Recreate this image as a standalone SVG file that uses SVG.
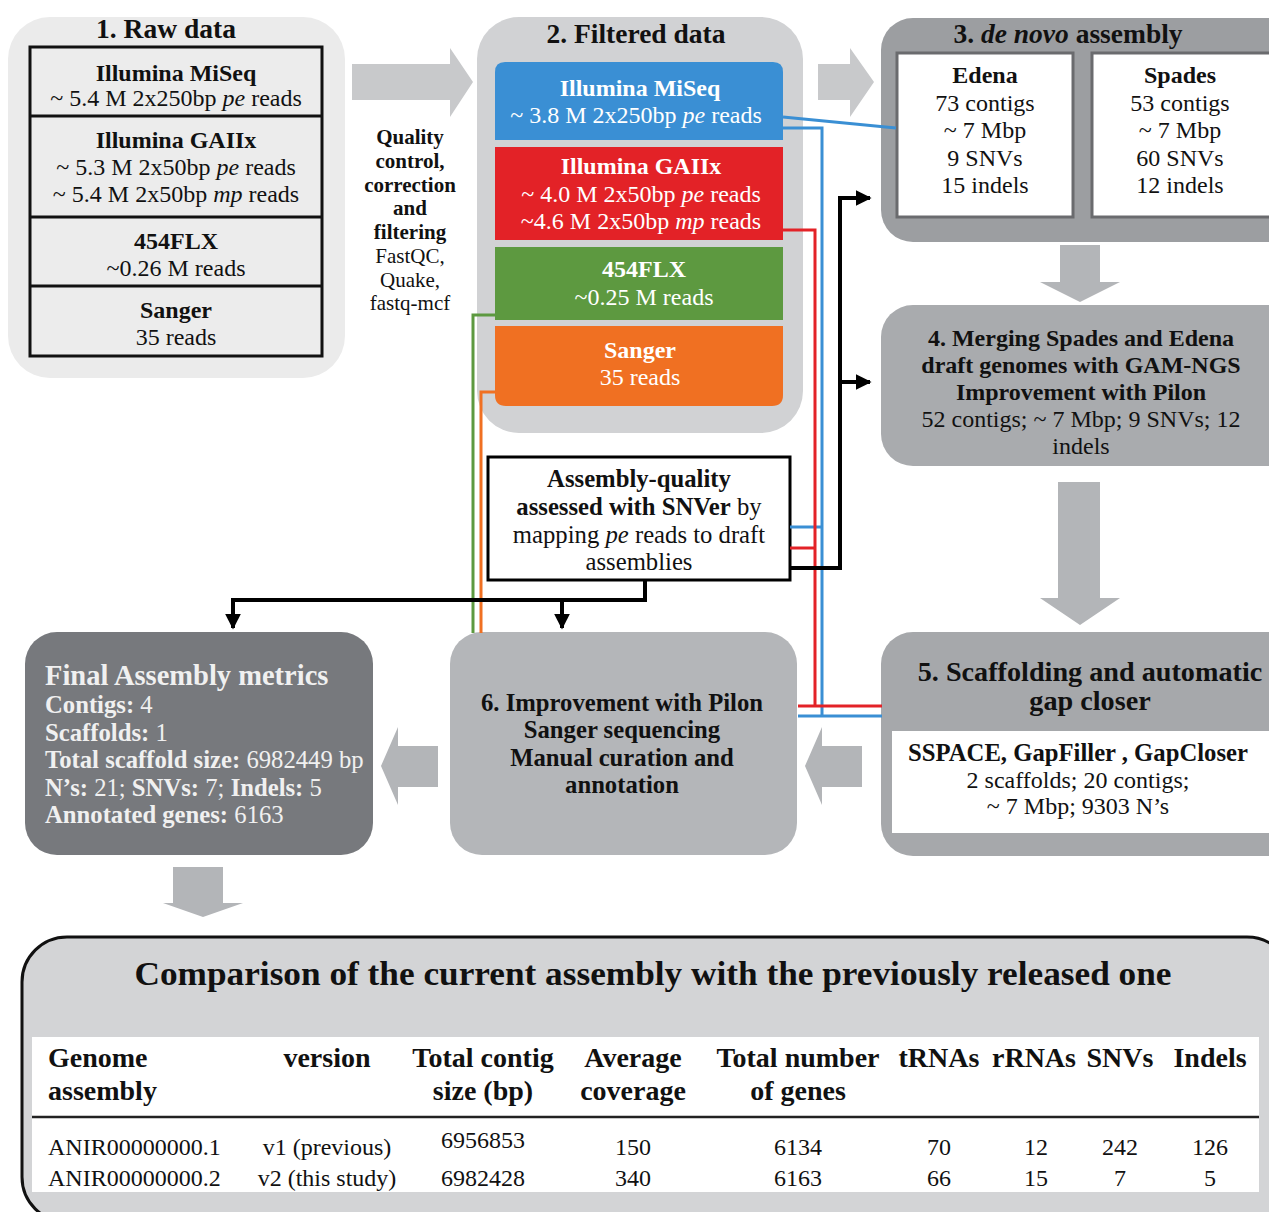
<svg xmlns="http://www.w3.org/2000/svg" width="1269" height="1212" viewBox="0 0 1269 1212">
<style>
text{font-family:"Liberation Serif","DejaVu Serif",serif;font-weight:400;font-size:24px;fill:#111;text-anchor:middle}
.b{font-weight:bold}
.i{font-style:italic}
.w{fill:#fff}
.fw{fill:#f0f0f0}
.l{text-anchor:start}
.h{font-size:27.5px}
.m{font-size:24.7px}
.q{font-size:21px}
.th{font-size:28px;font-weight:bold}
.arr{fill:#b3b5b8}
.arrl{fill:#c8c9cb}
.blk{fill:none;stroke:#000;stroke-width:4}
.bl{fill:none;stroke:#3a8fd4;stroke-width:3}
.rd{fill:none;stroke:#e32227;stroke-width:3}
.gr{fill:none;stroke:#5d9940;stroke-width:3}
.or{fill:none;stroke:#f07022;stroke-width:3}
</style>
<defs>
<marker id="ah" viewBox="0 0 10 10" refX="9" refY="5" markerWidth="4" markerHeight="4" orient="auto" markerUnits="strokeWidth">
<path d="M0,0 L10,5 L0,10 Z" fill="#000"/>
</marker>
</defs>
<rect width="1269" height="1212" fill="#fff"/>

<!-- big block arrows -->
<g id="block-arrows">
<path class="arrl" d="M352,64 H450 V48 L473,82 L450,117 V100 H352 Z"/>
<path class="arrl" d="M818,64 H850 V48 L874,82 L850,117 V100 H818 Z"/>
<path class="arr" d="M1060,245 H1100 V282 H1120 L1080,302 L1040,282 H1060 Z"/>
<path class="arr" d="M1058,482 H1100 V598 H1120 L1080,625 L1040,598 H1058 Z"/>
<path class="arr" d="M862,746 H822 V727 L805,766 L822,805 V787 H862 Z"/>
<path class="arr" d="M438,746 H398 V727 L381,766 L398,805 V787 H438 Z"/>
<path class="arr" d="M173,867 H223 V903 H243 L203,917 L163,903 H173 Z"/>
</g>

<!-- 1. Raw data -->
<g id="raw-data">
<rect x="8" y="17" width="337" height="361" rx="42" fill="#ebebeb"/>
<text x="166" y="38" class="b h">1. Raw data</text>
<rect x="30" y="47" width="292" height="309" fill="#ececec" stroke="#111" stroke-width="3"/>
<line x1="30" y1="116" x2="322" y2="116" stroke="#111" stroke-width="3"/>
<line x1="30" y1="217" x2="322" y2="217" stroke="#111" stroke-width="3"/>
<line x1="30" y1="286" x2="322" y2="286" stroke="#111" stroke-width="3"/>
<text x="176" y="81" class="b">Illumina MiSeq</text>
<text x="176" y="106">~ 5.4 M 2x250bp <tspan class="i">pe</tspan> reads</text>
<text x="176" y="148" class="b">Illumina GAIIx</text>
<text x="176" y="175">~ 5.3 M 2x50bp <tspan class="i">pe</tspan> reads</text>
<text x="176" y="202">~ 5.4 M 2x50bp <tspan class="i">mp</tspan> reads</text>
<text x="176" y="249" class="b">454FLX</text>
<text x="176" y="276">~0.26 M reads</text>
<text x="176" y="318" class="b">Sanger</text>
<text x="176" y="345">35 reads</text>
</g>

<!-- QC label -->
<g id="qc-label">
<text x="410" y="144" class="b q">Quality</text>
<text x="410" y="168" class="b q">control,</text>
<text x="410" y="192" class="b q">correction</text>
<text x="410" y="215" class="b q">and</text>
<text x="410" y="239" class="b q">filtering</text>
<text x="410" y="263" class="q">FastQC,</text>
<text x="410" y="287" class="q">Quake,</text>
<text x="410" y="310" class="q">fastq-mcf</text>
</g>

<!-- 2. Filtered data -->
<g id="filtered-data">
<rect x="477" y="17" width="326" height="416" rx="42" fill="#d1d2d4"/>
<text x="636" y="43" class="b h">2. Filtered data</text>
<path d="M495,140 V72 Q495,62 505,62 H773 Q783,62 783,72 V140 Z" fill="#3a8fd4"/>
<text x="640" y="96" class="b w">Illumina MiSeq</text>
<text x="636" y="123" class="w">~ 3.8 M 2x250bp <tspan class="i">pe</tspan> reads</text>
<rect x="495" y="147" width="288" height="93" fill="#e32227"/>
<text x="641" y="174" class="b w">Illumina GAIIx</text>
<text x="641" y="202" class="w">~ 4.0 M 2x50bp <tspan class="i">pe</tspan> reads</text>
<text x="641" y="229" class="w">~4.6 M 2x50bp <tspan class="i">mp</tspan> reads</text>
<rect x="495" y="247" width="288" height="73" fill="#5d9940"/>
<text x="644" y="277" class="b w">454FLX</text>
<text x="644" y="305" class="w">~0.25 M reads</text>
<path d="M495,326 H783 V395 Q783,406 772,406 H506 Q495,406 495,395 Z" fill="#f07022"/>
<text x="640" y="358" class="b w">Sanger</text>
<text x="640" y="385" class="w">35 reads</text>
</g>

<!-- 3. de novo assembly -->
<g id="de-novo">
<rect x="881" y="18" width="420" height="224" rx="32" fill="#9c9ea1"/>
<text x="1068" y="43" class="b h">3. <tspan class="i">de novo</tspan> assembly</text>
<rect x="897" y="53" width="176" height="164" fill="#fff" stroke="#6a6b6e" stroke-width="3"/>
<rect x="1092" y="53" width="190" height="164" fill="#fff" stroke="#6a6b6e" stroke-width="3"/>
<text x="985" y="83" class="b">Edena</text>
<text x="985" y="111">73 contigs</text>
<text x="985" y="138">~ 7 Mbp</text>
<text x="985" y="166">9 SNVs</text>
<text x="985" y="193">15 indels</text>
<text x="1180" y="83" class="b">Spades</text>
<text x="1180" y="111">53 contigs</text>
<text x="1180" y="138">~ 7 Mbp</text>
<text x="1180" y="166">60 SNVs</text>
<text x="1180" y="193">12 indels</text>
</g>

<!-- 4. Merging -->
<g id="merging">
<rect x="881" y="305" width="420" height="161" rx="32" fill="#a9abae"/>
<text x="1081" y="346" class="b">4. Merging Spades and Edena</text>
<text x="1081" y="373" class="b">draft genomes with GAM-NGS</text>
<text x="1081" y="400" class="b">Improvement with Pilon</text>
<text x="1081" y="427">52 contigs; ~ 7 Mbp; 9 SNVs; 12</text>
<text x="1081" y="454">indels</text>
</g>

<!-- 5. Scaffolding -->
<g id="scaffolding">
<rect x="881" y="632" width="420" height="224" rx="32" fill="#a6a8ab"/>
<text x="1090" y="681" class="b" style="font-size:28.2px">5. Scaffolding and automatic</text>
<text x="1090" y="710" class="b" style="font-size:28.2px">gap closer</text>
<rect x="892" y="731" width="377" height="102" fill="#fff"/>
<text x="1078" y="761" class="b m">SSPACE, GapFiller , GapCloser</text>
<text x="1078" y="788">2 scaffolds; 20 contigs;</text>
<text x="1078" y="814">~ 7 Mbp; 9303 N’s</text>
</g>

<!-- 6. Improvement -->
<g id="improvement">
<rect x="450" y="632" width="347" height="223" rx="32" fill="#b4b6b9"/>
<text x="622" y="711" class="b m">6. Improvement with Pilon</text>
<text x="622" y="738" class="b m">Sanger sequencing</text>
<text x="622" y="766" class="b m">Manual curation and</text>
<text x="622" y="793" class="b m">annotation</text>
</g>

<!-- Final Assembly metrics -->
<g id="final-metrics">
<rect x="25" y="632" width="348" height="223" rx="32" fill="#77797d"/>
<text x="45" y="685" class="b l fw" style="font-size:28.5px">Final Assembly metrics</text>
<text x="45" y="713" class="l fw m"><tspan class="b">Contigs:</tspan> 4</text>
<text x="45" y="741" class="l fw m"><tspan class="b">Scaffolds:</tspan> 1</text>
<text x="45" y="768" class="l fw m"><tspan class="b">Total scaffold size:</tspan> 6982449 bp</text>
<text x="45" y="796" class="l fw m"><tspan class="b">N’s:</tspan> 21; <tspan class="b">SNVs:</tspan> 7; <tspan class="b">Indels:</tspan> 5</text>
<text x="45" y="823" class="l fw m"><tspan class="b">Annotated genes:</tspan> 6163</text>
</g>

<!-- Assembly quality -->
<g id="assembly-quality">
<rect x="488" y="457" width="302" height="123" fill="#fff" stroke="#000" stroke-width="3"/>
<text x="639" y="487" class="b m">Assembly-quality</text>
<text x="639" y="515" class="m"><tspan class="b">assessed with SNVer</tspan> by</text>
<text x="639" y="543" class="m">mapping <tspan class="i">pe</tspan> reads to draft</text>
<text x="639" y="570" class="m">assemblies</text>
</g>

<!-- connectors -->
<g id="connectors">
<path class="bl" d="M783,117 L896,128"/>
<path class="bl" d="M783,128 H822 V716"/>
<path class="bl" d="M798,716 H882"/>
<path class="bl" d="M790,527 H822"/>
<path class="rd" d="M783,230 H815 V706"/>
<path class="rd" d="M798,706 H882"/>
<path class="rd" d="M790,548 H815"/>
<path class="gr" d="M496,315 H473 V633"/>
<path class="or" d="M496,392 H481 V633"/>
<path class="blk" d="M790,568 H840 V198 H870" marker-end="url(#ah)"/>
<path class="blk" d="M840,382 H870" marker-end="url(#ah)"/>
<path class="blk" d="M645,580 V600 H233 V628" marker-end="url(#ah)"/>
<path class="blk" d="M562,600 V628" marker-end="url(#ah)"/>
</g>

<!-- Comparison table -->
<g id="comparison">
<rect x="22" y="937" width="1270" height="285" rx="45" fill="#d3d4d6" stroke="#111" stroke-width="3"/>
<text x="653" y="985" class="b" style="font-size:33px" textLength="1037" lengthAdjust="spacingAndGlyphs">Comparison of the current assembly with the previously released one</text>
<rect x="32" y="1037" width="1227" height="155" fill="#fff"/>
<line x1="32" y1="1117" x2="1259" y2="1117" stroke="#222" stroke-width="2.5"/>
<text x="48" y="1067" class="th l">Genome</text>
<text x="48" y="1100" class="th l">assembly</text>
<text x="327" y="1067" class="th">version</text>
<text x="483" y="1067" class="th">Total contig</text>
<text x="483" y="1100" class="th">size (bp)</text>
<text x="633" y="1067" class="th">Average</text>
<text x="633" y="1100" class="th">coverage</text>
<text x="798" y="1067" class="th">Total number</text>
<text x="798" y="1100" class="th">of genes</text>
<text x="939" y="1067" class="th">tRNAs</text>
<text x="1034" y="1067" class="th">rRNAs</text>
<text x="1120" y="1067" class="th">SNVs</text>
<text x="1210" y="1067" class="th">Indels</text>
<text x="48" y="1155" class="l">ANIR00000000.1</text>
<text x="327" y="1155">v1 (previous)</text>
<text x="483" y="1148">6956853</text>
<text x="633" y="1155">150</text>
<text x="798" y="1155">6134</text>
<text x="939" y="1155">70</text>
<text x="1036" y="1155">12</text>
<text x="1120" y="1155">242</text>
<text x="1210" y="1155">126</text>
<text x="48" y="1186" class="l">ANIR00000000.2</text>
<text x="327" y="1186">v2 (this study)</text>
<text x="483" y="1186">6982428</text>
<text x="633" y="1186">340</text>
<text x="798" y="1186">6163</text>
<text x="939" y="1186">66</text>
<text x="1036" y="1186">15</text>
<text x="1120" y="1186">7</text>
<text x="1210" y="1186">5</text>
</g>
</svg>
